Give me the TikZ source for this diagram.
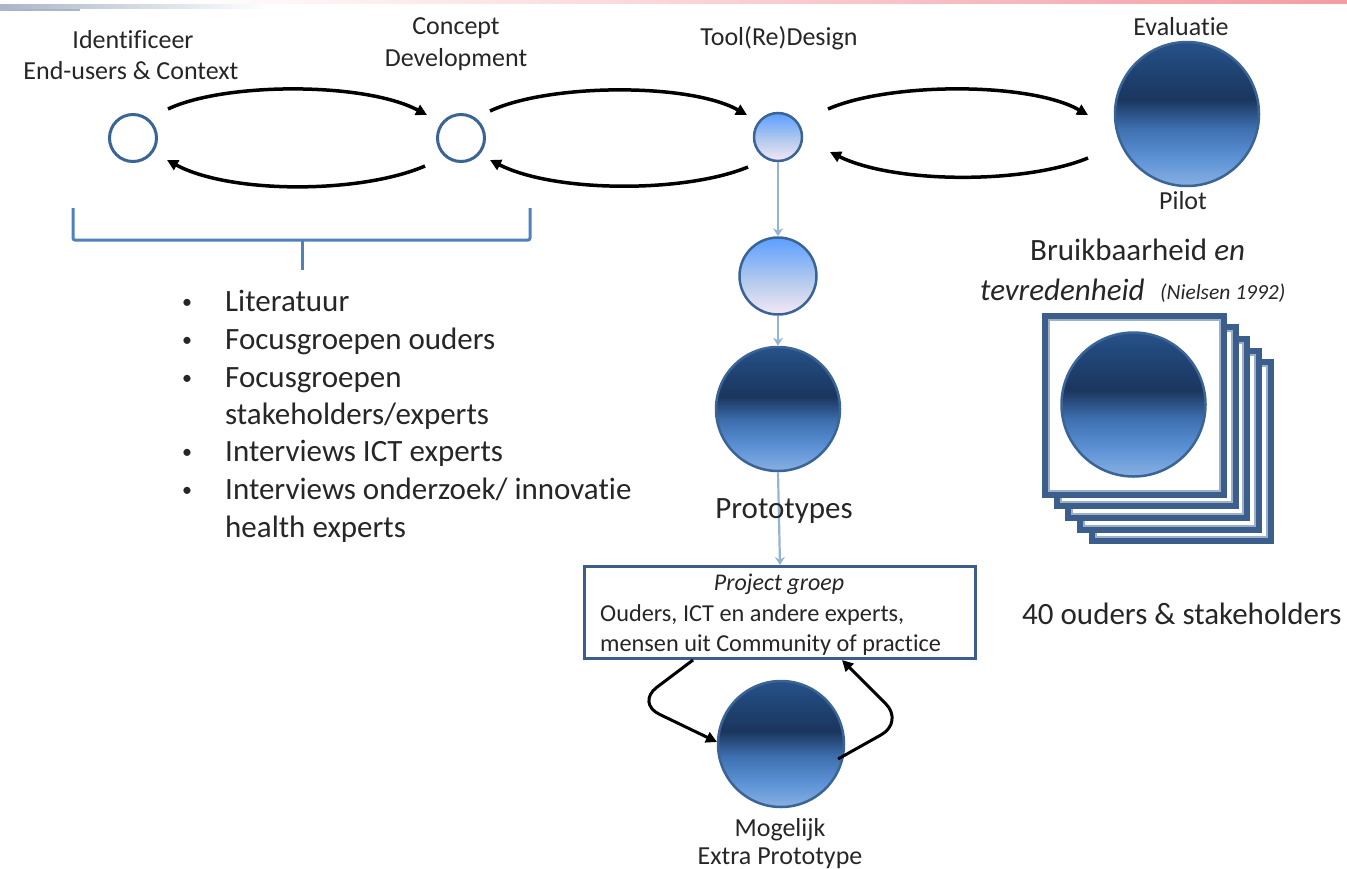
\documentclass[tikz,border=0pt]{standalone}
\usepackage{fontspec}
\setmainfont[Ligatures=CommonOff]{Carlito}
\usetikzlibrary{arrows.meta,calc}
\definecolor{txt}{HTML}{262626}
\definecolor{ringblue}{HTML}{3B6496}
\definecolor{lineblue}{HTML}{95B3D7}
\definecolor{brack}{HTML}{4F81BD}
\definecolor{sqdark}{HTML}{3B5E8C}
\definecolor{sqlight}{HTML}{9DB0C8}
\definecolor{dbA}{HTML}{88B0E2}
\definecolor{dbB}{HTML}{5B91D4}
\definecolor{dbC}{HTML}{3E70B0}
\definecolor{dbD}{HTML}{1B365E}
\definecolor{dbE}{HTML}{1F4373}
\definecolor{dbF}{HTML}{27528A}
\definecolor{lbA}{HTML}{F5E8F5}
\definecolor{lbB}{HTML}{B9CDED}
\definecolor{lbC}{HTML}{5C9EFF}
\definecolor{barL}{HTML}{A9B5C9}
\definecolor{barR}{HTML}{F39CA2}
\pgfdeclareverticalshading{darkball}{100bp}{color(0bp)=(dbA); color(25bp)=(dbA); color(35bp)=(dbB); color(45bp)=(dbC); color(55bp)=(dbD); color(65bp)=(dbE); color(75bp)=(dbF); color(100bp)=(dbF)}
\pgfdeclareverticalshading{lightball}{100bp}{color(0bp)=(lbA); color(25bp)=(lbA); color(45bp)=(lbB); color(75bp)=(lbC); color(100bp)=(lbC)}
\begin{document}
\begin{tikzpicture}[x=1pt,y=-1pt,
  lbl/.style={font=\fontsize{26}{30}\selectfont, text=txt, inner sep=0pt, anchor=base},
  big/.style={font=\fontsize{31}{37}\selectfont, text=txt, inner sep=0pt, anchor=base west},
  boxtxt/.style={font=\fontsize{24.3}{29}\selectfont, text=txt, inner sep=0pt, anchor=base west},
  ring/.style={circle, draw=ringblue, line width=3pt, inner sep=0pt, fill=white},
  darkc/.style={circle, draw=ringblue, line width=2.5pt, shading=darkball, inner sep=0pt},
  lightc/.style={circle, draw=ringblue, line width=2.5pt, shading=lightball, inner sep=0pt},
  arr/.style={-{Triangle[length=11pt,width=11pt]}, line width=3.5pt, black},
  varr/.style={-{Stealth[length=8pt,width=10pt]}, line width=2.2pt, lineblue},
  sq/.style={rectangle, draw=sqdark, line width=6pt, fill=white, minimum size=179pt, inner sep=0pt},
  sqin/.style={rectangle, draw=sqlight, line width=2pt, minimum size=171pt, inner sep=0pt},
  bul/.style={font=\fontsize{20}{24}\selectfont, text=txt, inner sep=0pt, anchor=base}
]
\useasboundingbox (0,0) rectangle (1347,868);
% top decoration bars
\shade[left color=barL, right color=white] (0,4) rectangle (270,8);
\shade[left color=white, right color=barR] (180,0) rectangle (1347,3);
\fill[barL] (0,9) rectangle (80,11);

% circles
\node[ring, minimum size=47pt] (A) at (133,138) {};
\node[ring, minimum size=47pt] (B) at (461,138) {};
\node[lightc, minimum size=48pt] (C) at (778,137) {};
\node[darkc, minimum size=144pt] (D) at (1187,114) {};
\node[lightc, minimum size=77pt] (E) at (778,276) {};
\node[darkc, minimum size=124pt] (F) at (778,409) {};
\node[darkc, minimum size=126pt] (G) at (781,744) {};

% labels top
\node[lbl] (lA1) at (133,48) {Identificeer};
\node[lbl] (lA2) at (131,79) {End-users \& Context};
\node[lbl] (lB1) at (456,34) {Concept};
\node[lbl] (lB2) at (456,66) {Development};
\node[lbl] (lC) at (779,45) {Tool(Re)Design};
\node[lbl] (lD1) at (1181,35) {Evaluatie};
\node[lbl] (lD2) at (1183,209) {Pilot};

% horizontal arrows
\draw[arr] ($(A)+(35,-29)$) .. controls ($(A)+(92,-56)$) and ($(B)+(-96,-56)$) .. ($(B)+(-34,-23)$);
\draw[arr] ($(B)+(-36,28)$) .. controls ($(B)+(-101,56)$) and ($(A)+(97,56)$) .. ($(A)+(34,22)$);
\draw[arr] ($(B)+(29,-27)$) .. controls ($(B)+(89,-55)$) and ($(C)+(-88,-54)$) .. ($(C)+(-31,-22)$);
\draw[arr] ($(C)+(-30,30)$) .. controls ($(C)+(-93,56)$) and ($(B)+(94,55)$) .. ($(B)+(29,22)$);
\draw[arr] ($(C)+(50,-28)$) .. controls ($(C)+(112,-55)$) and ($(D)+(-157,-32)$) .. ($(D)+(-99,1)$);
\draw[arr] ($(D)+(-99,44)$) .. controls ($(D)+(-162,70)$) and ($(C)+(117,47)$) .. ($(C)+(52,15)$);

% vertical light arrows
\draw[varr] (C.south) -- (E.north);
\draw[varr] (E.south) -- (F.north);

% bracket
\draw[brack, line width=3pt, rounded corners=2pt] (73,208) -- (73,240) -- (530,240) -- (530,208);
\draw[brack, line width=3pt] (302,240) -- (302,270);

% bullet list
\foreach \yy in {311,349,387,461,499} {
  \node[bul] at (187,\yy-3) {•};
}
\node[big] (b1) at (225,311) {Literatuur};
\node[big] (b2) at (225,349) {Focusgroepen ouders};
\node[big] (b3) at (225,387) {Focusgroepen};
\node[big] (b3b) at (225,424) {stakeholders/experts};
\node[big] (b4) at (225,461) {Interviews ICT experts};
\node[big] (b5) at (225,499) {Interviews onderzoek/ innovatie};
\node[big] (b5b) at (225,537) {health experts};

% prototypes label and box
\node[rectangle, draw=sqdark, line width=3pt, fill=white, minimum width=391pt, minimum height=92pt, inner sep=0pt] (pg) at (780,612.5) {};
\draw[varr] (F.south) -- (pg.north);
\node[big, anchor=base] (lF) at (784,518) {Prototypes};
\node[boxtxt, anchor=base, font=\fontsize{24}{28}\selectfont\itshape] (pg1) at (779,590) {Project groep};
\node[boxtxt] (pg2) at (600,621) {Ouders, ICT en andere experts,};
\node[boxtxt] (pg3) at (600,651) {mensen uit Community of practice};

% loop arrows
\draw[arr, line width=3pt, rounded corners=26pt] ($(pg.south)+(-87,0)$) -- (636,703) -- ($(G)+(-64,-2)$);
\draw[arr, line width=3pt, rounded corners=26pt] ($(G)+(57,15)$) -- (904,722) -- ($(pg.south)+(62,0)$);
\node[lbl] (lG1) at (780,836) {Mogelijk};
\node[lbl] (lG2) at (780,864) {Extra Prototype};

% stacked squares
\foreach \k in {4,3,2,1} {
  \node[sq] (s\k) at ($(1134.5,405)+(11.7*\k,11.7*\k)$) {};
  \node[sqin] at (s\k) {};
}
\node[sq] (s0) at (1134.5,405) {};
\node[sqin] at (s0) {};
\node[darkc, minimum size=144pt] (H) at (1133.5,404.5) {};

% right texts
\node[big] (br1) at (1030,260) {Bruikbaarheid \textit{en}};
\node[big] (br2) at (980,300) {\textit{tevredenheid}};
\node[big, font=\fontsize{21.5}{24}\selectfont\itshape] (br3) at (1160,299) {(Nielsen 1992)};
\node[big] (n40) at (1022,624) {40 ouders \& stakeholders};
\end{tikzpicture}
\end{document}
